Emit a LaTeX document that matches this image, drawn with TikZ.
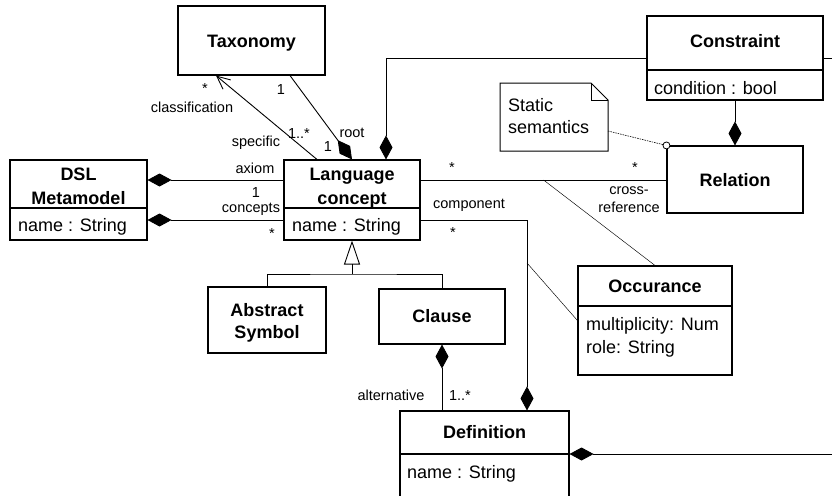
\documentclass[tikz,border=0pt]{standalone}
\usepackage{fontspec}
\setmainfont{Liberation Sans}
\usetikzlibrary{arrows.meta}
\begin{document}
\begin{tikzpicture}[x=1pt,y=-1pt,
  box/.style={draw, line width=1.1pt, fill=white, inner sep=0pt},
  divider/.style={line width=1.1pt},
  conn/.style={line width=0.9pt},
  thinline/.style={line width=0.45pt},
  ttl/.style={font=\fontsize{18}{22}\selectfont\bfseries, anchor=base, inner sep=0pt},
  attr/.style={font=\fontsize{18}{22}\selectfont, anchor=base west, inner sep=0pt},
  lbl/.style={font=\fontsize{14.5}{17}\selectfont, anchor=base, inner sep=0pt},
  dstart/.style={arrows={Diamond[length=24pt,width=13pt]-}},
  dend/.style={arrows={-Diamond[length=24pt,width=13pt]}},
  barb/.style={arrows={-Straight Barb[length=13pt,width=12pt,line width=0.9pt]}},
  gentri/.style={arrows={-Triangle[open,length=24pt,width=16pt]}}
]
\useasboundingbox (0,0) rectangle (832,495);
\clip (0,0) rectangle (832,495);

% Taxonomy
\node[box, minimum width=147pt, minimum height=69pt] (tax) at (251.5,40.5) {};
\node[ttl] (taxT) at (251.5,48) {Taxonomy};

% DSL Metamodel
\node[box, minimum width=137pt, minimum height=80pt] (dsl) at (78.5,200) {};
\node[ttl] (dslT1) at (78.5,180) {DSL};
\node[ttl] (dslT2) at (78.5,204) {Metamodel};
\draw[divider] ([yshift=-8pt]dsl.west) -- ([yshift=-8pt]dsl.east);
\node[attr] (dslA) at (18,231) {name : String};

% Language concept
\node[box, minimum width=136pt, minimum height=80pt] (lc) at (352,200) {};
\node[ttl] (lcT1) at (352,180) {Language};
\node[ttl] (lcT2) at (352,204) {concept};
\draw[divider] ([yshift=-8pt]lc.west) -- ([yshift=-8pt]lc.east);
\node[attr] (lcA) at (292,231) {name : String};

% Constraint
\node[box, minimum width=176pt, minimum height=84pt] (con) at (735,58) {};
\node[ttl] (conT) at (735,48) {Constraint};
\draw[divider] ([yshift=-12pt]con.west) -- ([yshift=-12pt]con.east);
\node[attr] (conA) at (654,94) {condition : bool};

% Relation
\node[box, minimum width=136pt, minimum height=67pt] (rel) at (735,179.5) {};
\node[ttl] (relT) at (735,186) {Relation};

% Occurance
\node[box, minimum width=154pt, minimum height=109pt] (occ) at (655,320.5) {};
\node[ttl] (occT) at (655,292) {Occurance};
\draw[divider] ([yshift=14.5pt]occ.west) -- ([yshift=14.5pt]occ.east);
\node[attr] (occA1) at (586,330) {multiplicity: Num};
\node[attr] (occA2) at (586,353) {role: String};

% Abstract Symbol
\node[box, minimum width=118pt, minimum height=66pt] (abs) at (267,320) {};
\node[ttl] (absT1) at (267,316) {Abstract};
\node[ttl] (absT2) at (267,338) {Symbol};

% Clause
\node[box, minimum width=126pt, minimum height=55pt] (cla) at (442,316.5) {};
\node[ttl] (claT) at (442,322) {Clause};

% Definition
\node[box, minimum width=169pt, minimum height=119pt] (def) at (484.5,470.5) {};
\node[ttl] (defT) at (484.5,438) {Definition};
\draw[divider] ([yshift=16.5pt]def.west) -- ([yshift=16.5pt]def.east);
\node[attr] (defA) at (407,478) {name : String};

% Note
\draw[line width=1pt, fill=white] (500,83) -- (591,83) -- (608,100) -- (608,151) -- (500,151) -- cycle;
\draw[line width=1pt] (591,83) -- (591,100) -- (608,100);
\node[attr] (noteT1) at (508,111) {Static};
\node[attr] (noteT2) at (508,133) {semantics};
\coordinate (noteR) at (608,131);

% free ends
\coordinate (edgeC) at (845,58);
\coordinate (edgeD) at (845,454);
\coordinate (gen) at (352,274);
\coordinate (cmpk) at (527,263);

% connectors
\draw[conn, barb] ([xshift=-35pt]lc.north) -- ([xshift=-35.5pt]tax.south);
\draw[conn, dend] ([xshift=38.5pt]tax.south) -- (lc.north);
\draw[conn, dstart] ([xshift=34pt]lc.north) |- (con.west);
\draw[conn] (con.east) -- (edgeC);
\draw[conn, dstart] ([yshift=20pt]dsl.east) -- ([yshift=20pt]lc.west);
\draw[conn, dstart] ([yshift=-20pt]dsl.east) -- ([yshift=-20pt]lc.west);
\draw[conn] ([yshift=20pt]lc.east) -- ([yshift=20pt]lc.east -| rel.west);
\draw[conn, dend] (con.south) -- (rel.north);
\draw[line width=0.6pt, dash pattern=on 1.5pt off 1pt] (noteR) -- (rel.north west);
\draw[line width=0.8pt, fill=white] (rel.north west) circle (3.5pt);
\draw[conn, dend] ([yshift=-20pt]lc.east) -| ([xshift=42.5pt]def.north);
\draw[thinline] ([xshift=123pt, yshift=20pt]lc.east) -- (occ.north);
\draw[thinline] (cmpk) -- (occ.west);
\draw[conn, gentri] (gen) -- (lc.south);
\draw[conn] (abs.north) |- (gen) -| (cla.north);
\draw[conn, dstart] (cla.south) -- (cla.south |- def.north);
\draw[conn, dstart] ([yshift=16.5pt]def.east) -- (edgeD);

% labels
\node[lbl] (l1) at (205,93) {*};
\node[lbl] (l2) at (192,112) {classification};
\node[lbl] (l3) at (281,94) {1};
\node[lbl] (l4) at (299,138) {1..*};
\node[lbl] (l5) at (256,146) {specific};
\node[lbl] (l6) at (352,137) {root};
\node[lbl] (l7) at (328,151) {1};
\node[lbl] (l8) at (255,173) {axiom};
\node[lbl] (l9) at (256,197) {1};
\node[lbl] (l10) at (251,212) {concepts};
\node[lbl] (l11) at (272,238) {*};
\node[lbl] (l12) at (452,172) {*};
\node[lbl] (l13) at (635,172) {*};
\node[lbl] (l14) at (629,194) {cross-};
\node[lbl] (l15) at (629,212) {reference};
\node[lbl] (l16) at (469,208) {component};
\node[lbl] (l17) at (453,237) {*};
\node[lbl] (l18) at (391,400) {alternative};
\node[lbl] (l19) at (460,400) {1..*};
\end{tikzpicture}
\end{document}
